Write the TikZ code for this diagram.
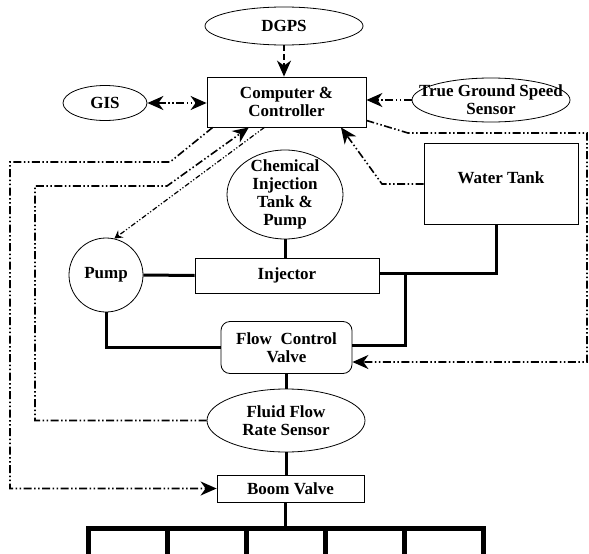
\documentclass[tikz,border=0pt]{standalone}
\usepackage{fontspec}
\setmainfont{Liberation Serif}[BoldFont={Liberation Serif Bold}]
\usetikzlibrary{shapes.geometric,arrows.meta}
\begin{document}
\begin{tikzpicture}[x=1pt,y=-1pt,
  font=\bfseries\fontsize{17}{18}\selectfont,
  box/.style={draw, line width=0.8pt, inner sep=0pt, align=center},
  oval/.style={draw, ellipse, line width=0.8pt, inner sep=0pt},
  pipe/.style={line width=3pt},
  rake/.style={line width=5pt},
  ctrl/.style={line width=1.6pt, dash pattern=on 8pt off 2.5pt on 1.5pt off 2.5pt on 1.5pt off 2.5pt},
  ctrlthin/.style={line width=1.2pt, dash pattern=on 5pt off 2pt on 1.2pt off 2pt on 1.2pt off 2pt},
  dashline/.style={line width=1.6pt, dash pattern=on 6pt off 3pt},
  big/.style={-{Stealth[length=16pt,width=14pt,inset=5pt]}},
  both/.style={{Stealth[length=16pt,width=14pt,inset=5pt]}-{Stealth[length=16pt,width=14pt,inset=5pt]}},
  small/.style={-{Stealth[length=8pt,width=9pt,inset=3pt]}},
]
\useasboundingbox (0,0) rectangle (589,554);

% nodes
\node[oval, minimum width=158pt, minimum height=38pt, label=center:DGPS] (dgps) at (284,26) {};
\node[box, minimum width=159pt, minimum height=50pt] (comp) at (286.5,102) {Computer \&\\Controller};
\node[oval, minimum width=84pt, minimum height=35pt, label=center:GIS] (gis) at (105,103) {};
\node[oval, minimum width=158pt, minimum height=44pt, label={[align=center]center:True Ground Speed\\Sensor}] (tgss) at (491,100) {};
\node[oval, minimum width=116pt, minimum height=89pt, label={[align=center]center:Chemical\\Injection\\Tank \&\\Pump}] (chem) at (285,194.5) {};
\node[box, minimum width=154pt, minimum height=81pt, label={[yshift=6pt]center:Water Tank}] (wt) at (501,183.5) {};
\node[box, minimum width=184pt, minimum height=35pt] (inj) at (287,275.5) {Injector};
\node[draw, circle, line width=0.8pt, minimum size=74pt, inner sep=0pt] (pump) at (106,275) {Pump};
\node[box, rounded corners=9pt, minimum width=131pt, minimum height=52pt] (fcv) at (286.5,347.5) {Flow~~Control\\Valve};
\node[oval, minimum width=158pt, minimum height=63pt, label={[align=center]center:Fluid Flow\\Rate Sensor}] (ffr) at (286,420.5) {};
\node[box, minimum width=147pt, minimum height=27pt] (boom) at (290.5,488.5) {Boom Valve};

% pipes
\coordinate (j1) at (496,273);
\coordinate (j2) at (405,273);
\coordinate (j3) at (405,345);
\draw[pipe] (chem.south) -- (chem.south |- inj.north);
\draw[pipe] (pump.east) -- (inj.west);
\draw[pipe] (wt.south -| j1) -- (j1) -- (inj.east |- j1);
\draw[pipe] (j2) -- (j3) -- (fcv.east |- j3);
\draw[pipe] (pump.south) |- (fcv.west);
\draw[pipe] (fcv.south) -- (fcv.south |- ffr.north);
\draw[pipe] (ffr.south) -- (ffr.south |- boom.north);
\coordinate (bar) at (285,528);
\draw[pipe] (boom.south -| bar) -- (bar);
\coordinate (t0) at (88.5,528);
\coordinate (t5) at (483.5,528);
\draw[rake] (88.5,560) -- (t0) -- (t5) -- (483.5,560);
\foreach \x in {167.5,246,325,404} {
  \coordinate (tt) at (\x,528);
  \draw[rake] (tt) -- (\x,560);
}

% control lines
\draw[dashline, big] (dgps.south) -- (dgps.south |- comp.north);
\draw[ctrl, both] (gis.east) -- (comp.west |- gis.east);
\draw[ctrl, big] (tgss.west) -- (comp.east |- tgss.west);
\coordinate (w1) at (382,184);
\draw[ctrl, big] (wt.west |- w1) -- (w1) -- (comp.-25);
\coordinate (r1) at (408,133);
\coordinate (r2) at (587,133);
\coordinate (r3) at (587,362);
\draw[ctrl, big] (comp.-13) -- (r1) -- (r2) -- (r3) -- (fcv.east |- r3);
\coordinate (a1) at (170,162);
\coordinate (a2) at (10,162);
\draw[ctrl, big] (comp.-161) -- (a1) -- (a2) |- (boom.west);
\coordinate (b1) at (167,186);
\coordinate (b2) at (35,186);
\draw[ctrl, big] (ffr.west) -| (b2) -- (b1) -- (comp.-146);
\draw[ctrlthin, small] (comp.-131) -- (pump.77);
\end{tikzpicture}
\end{document}
